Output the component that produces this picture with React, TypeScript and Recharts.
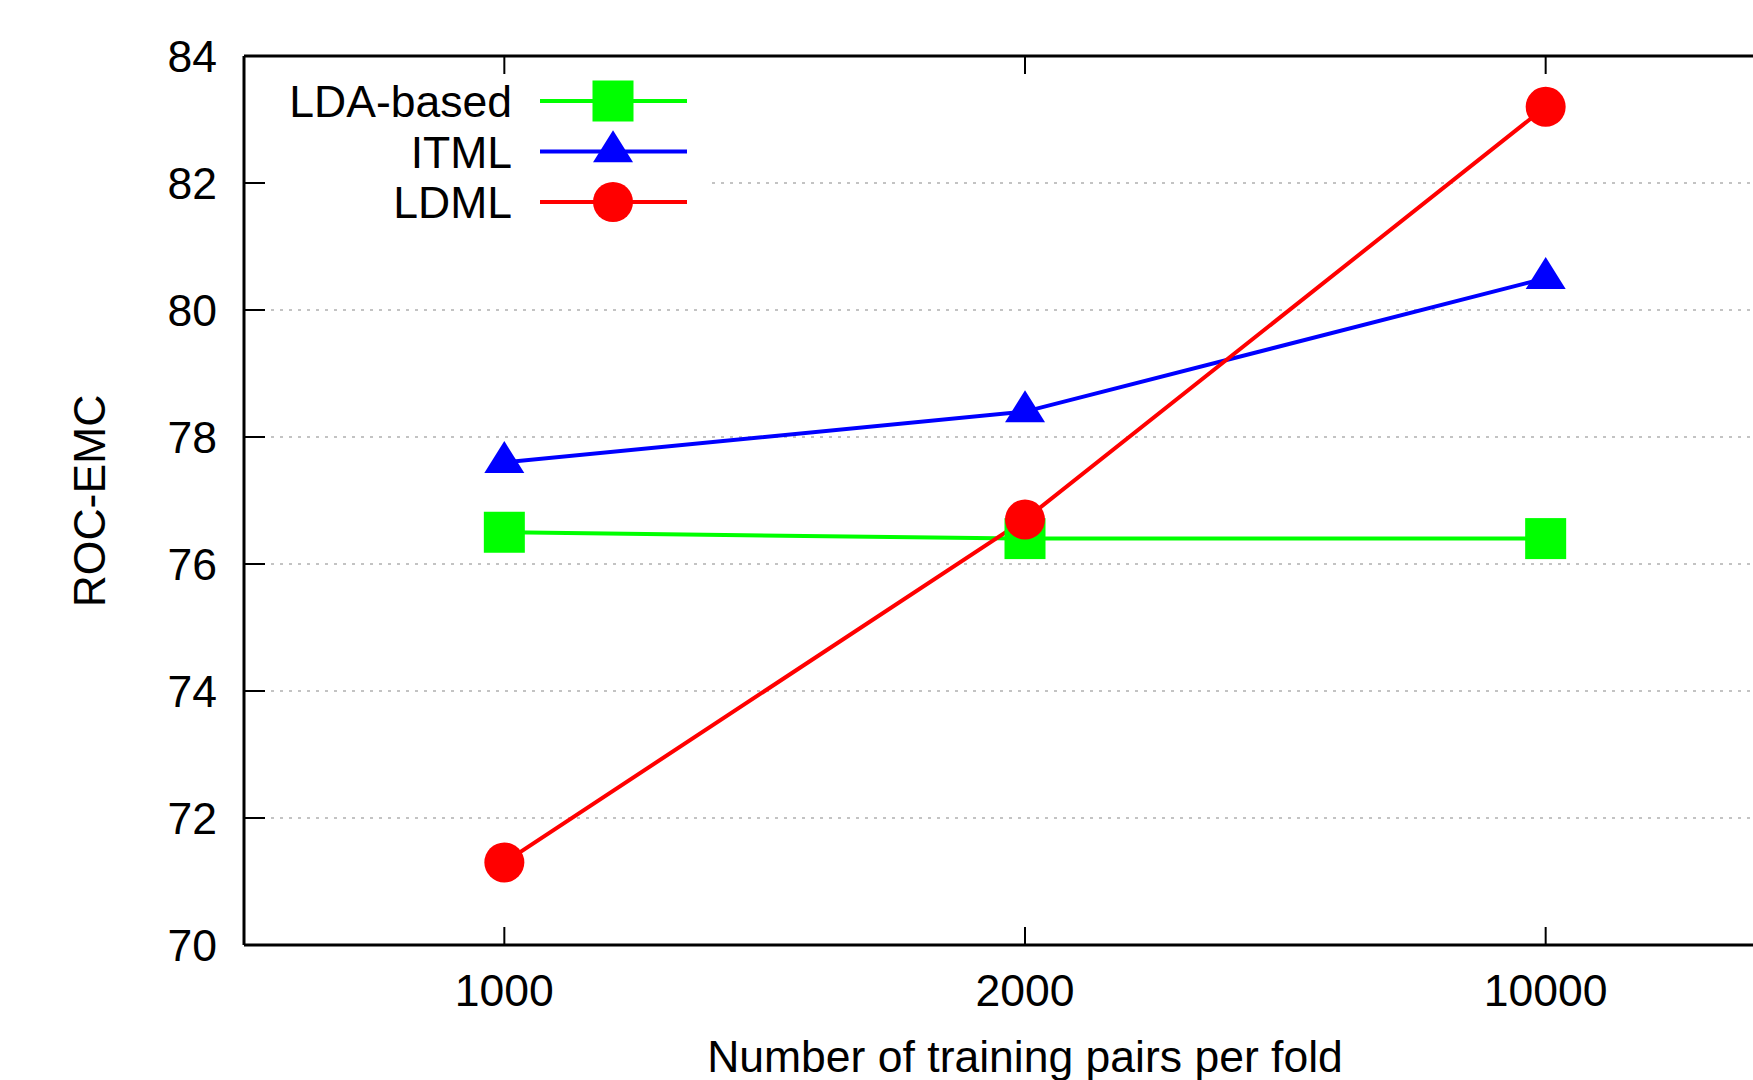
import React from 'react';
import { LineChart, Line, XAxis, YAxis, CartesianGrid, Legend, Label } from 'recharts';

const categories = ['1000', '2000', '10000'];
const ldaBased = [76.5, 76.4, 76.4];
const itml = [77.6, 78.4, 80.5];
const ldml = [71.3, 76.7, 83.2];
const yTicks = [70, 72, 74, 76, 78, 80, 82, 84];

const data = categories.map((c, i) => ({
  x: i,
  label: c,
  lda: ldaBased[i],
  itml: itml[i],
  ldml: ldml[i],
}));

const FONT = '"Liberation Sans", Arial, Helvetica, sans-serif';
const FS = 44.5;

const seriesDefs = [
  { key: 'lda', name: 'LDA-based', color: '#00ff00', shape: 'square' },
  { key: 'itml', name: 'ITML', color: '#0000ff', shape: 'triangle' },
  { key: 'ldml', name: 'LDML', color: '#ff0000', shape: 'circle' },
];

function Marker({ cx, cy, shape, color }: { cx: number; cy: number; shape: string; color: string }) {
  if (cx == null || cy == null) return null;
  if (shape === 'square') {
    return <rect x={cx - 20.5} y={cy - 20.5} width={41} height={41} fill={color} />;
  }
  if (shape === 'triangle') {
    const h = 32;
    const w = 40;
    return (
      <polygon
        points={`${cx},${cy - (2 * h) / 3} ${cx - w / 2},${cy + h / 3} ${cx + w / 2},${cy + h / 3}`}
        fill={color}
      />
    );
  }
  return <circle cx={cx} cy={cy} r={20} fill={color} />;
}

const makeDot = (shape: string, color: string) => (props: any) => (
  <Marker key={`${shape}-${props.index}`} cx={props.cx} cy={props.cy} shape={shape} color={color} />
);

const orderOf = (k: any) => {
  const i = seriesDefs.findIndex((s) => s.key === k);
  return i < 0 ? 99 : i;
};

const renderLegend = (props: any) => {
  const payload = [...(props.payload || [])].sort(
    (a: any, b: any) => orderOf(a.dataKey) - orderOf(b.dataKey)
  );
  return (
    <svg width={443} height={157} style={{ display: 'block', background: '#ffffff' }}>
      <rect x={0} y={0} width={443} height={157} fill="#ffffff" />
      {payload.map((p: any, i: number) => {
        const def = seriesDefs.find((s) => s.key === p.dataKey) || seriesDefs[i];
        const y = 25 + i * 50.5;
        return (
          <g key={def.key}>
            <text
              x={244}
              y={y + 16}
              textAnchor="end"
              fontFamily={FONT}
              fontSize={FS}
              fill="#000"
            >
              {p.value}
            </text>
            <line x1={272} x2={419} y1={y} y2={y} stroke={def.color} strokeWidth={4} />
            <Marker cx={345} cy={y} shape={def.shape} color={def.color} />
          </g>
        );
      })}
    </svg>
  );
};

const blankTick = () => '';

export default function App() {
  return (
    <div
      style={{
        position: 'fixed',
        left: 0,
        top: 0,
        width: 1753,
        height: 1080,
        overflow: 'hidden',
        background: '#ffffff',
      }}
    >
      <LineChart
        width={1824}
        height={1080}
        data={data}
        margin={{ top: 54, right: 16, bottom: 0, left: 0 }}
        style={{ fontFamily: FONT }}
      >
        <CartesianGrid
          horizontal
          vertical={false}
          stroke="#888888"
          strokeWidth={1.2}
          strokeDasharray="3 6"
          yAxisId="left"
          xAxisId="bottom"
        />
        <XAxis
          xAxisId="bottom"
          dataKey="x"
          type="number"
          domain={[-0.5, 2.5]}
          ticks={[0, 1, 2]}
          tickFormatter={(v: number) => categories[v]}
          orientation="bottom"
          height={135}
          tickSize={-18}
          tickMargin={47}
          axisLine={{ stroke: '#000', strokeWidth: 3 }}
          tickLine={{ stroke: '#000', strokeWidth: 2 }}
          tick={{ fill: '#000', fontSize: FS, fontFamily: FONT }}
          allowDataOverflow
        >
          <Label
            content={() => (
              <text
                x={1025}
                y={1072}
                textAnchor="middle"
                fontFamily={FONT}
                fontSize={FS}
                fill="#000"
              >
                Number of training pairs per fold
              </text>
            )}
          />
        </XAxis>
        <XAxis
          xAxisId="top"
          dataKey="x"
          type="number"
          domain={[-0.5, 2.5]}
          ticks={[0, 1, 2]}
          orientation="top"
          height={2}
          tickSize={-18}
          tickFormatter={blankTick}
          axisLine={{ stroke: '#000', strokeWidth: 3 }}
          tickLine={{ stroke: '#000', strokeWidth: 2 }}
          allowDataOverflow
        />
        <YAxis
          yAxisId="left"
          orientation="left"
          type="number"
          domain={[70, 84]}
          ticks={yTicks}
          width={244}
          tickSize={-21}
          tickMargin={48}
          axisLine={{ stroke: '#000', strokeWidth: 3 }}
          tickLine={{ stroke: '#000', strokeWidth: 2 }}
          tick={{ fill: '#000', fontSize: FS, fontFamily: FONT }}
          allowDataOverflow
        >
          <Label
            content={() => (
              <text
                x={89}
                y={501}
                transform="rotate(-90 89 501)"
                textAnchor="middle"
                dominantBaseline="central"
                fontFamily={FONT}
                fontSize={FS}
                fill="#000"
              >
                ROC-EMC
              </text>
            )}
          />
        </YAxis>
        <YAxis
          yAxisId="right"
          orientation="right"
          type="number"
          domain={[70, 84]}
          ticks={yTicks}
          width={2}
          tickSize={-21}
          tickFormatter={blankTick}
          axisLine={{ stroke: '#000', strokeWidth: 3 }}
          tickLine={{ stroke: '#000', strokeWidth: 2 }}
        />
        <Legend
          layout="vertical"
          align="center"
          verticalAlign="middle"
          content={renderLegend}
          wrapperStyle={{ position: 'absolute', left: 268, top: 76, width: 443, height: 157 }}
        />
        {seriesDefs.map((s) => (
          <Line
            key={s.key}
            xAxisId="bottom"
            yAxisId="left"
            type="linear"
            dataKey={s.key}
            name={s.name}
            stroke={s.color}
            strokeWidth={4}
            dot={makeDot(s.shape, s.color)}
            activeDot={false}
            isAnimationActive={false}
          />
        ))}
      </LineChart>
    </div>
  );
}
